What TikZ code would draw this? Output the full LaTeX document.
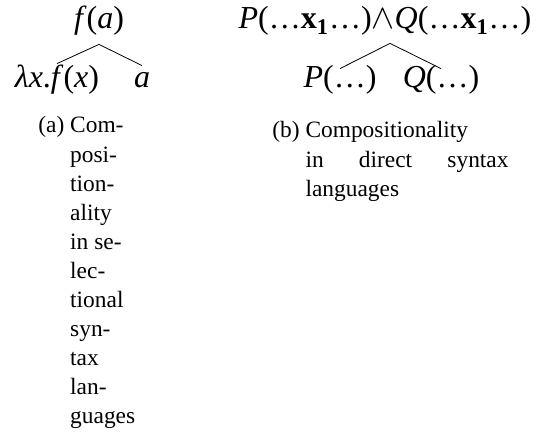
\documentclass[tikz,border=0pt]{standalone}
\usepackage{fontspec}
\setmainfont{Liberation Serif}
\usetikzlibrary{positioning}

\newcommand{\bx}{\textbf{x}\textsubscript{\textbf{1}}}

\begin{document}
\begin{tikzpicture}[x=0.5pt,y=-0.5pt,
    term/.style={inner sep=0pt,anchor=base,text height=12pt,text depth=4pt,
      font=\fontsize{16}{19}\selectfont},
    capt/.style={inner sep=0pt,anchor=base west,
      font=\fontsize{11.7}{14.55}\selectfont}]
  \useasboundingbox (0,0) rectangle (536,432);

  % (a) selectional syntax
  \node[term] (fa) at (99,29) {\textit{f\/}(\textit{a})};
  \node[term] (lam) at (57,88) {\textit{λx}.\textit{f\/}(\textit{x})};
  \node[term] (arg) at (142,88) {\textit{a}};
  \draw ([yshift=-3.5pt]fa.south) -- (lam.north);
  \draw ([yshift=-3.5pt]fa.south) -- ([yshift=-1pt]arg.north);

  \node[capt] (capa) at (38,133) {\begin{tabular}[t]{@{}r@{\ }l@{}}
      (a) & Com-\\ & posi-\\ & tion-\\ & ality\\ & in se-\\ & lec-\\
      & tional\\ & syn-\\ & tax\\ & lan-\\ & guages
    \end{tabular}};

  % (b) direct syntax
  \node[term] (conj) at (385,29) {\textit{P}(\ldots\bx\ldots)$\wedge$\textit{Q}(\ldots\bx\ldots)};
  \node[term] (pl) at (340,88) {\textit{P}(\ldots)};
  \node[term] (ql) at (441,88) {\textit{Q}(\ldots)};
  \draw ([xshift=2.5pt,yshift=-3pt]conj.south) -- ([yshift=-2.5pt]pl.north);
  \draw ([xshift=2.5pt,yshift=-3pt]conj.south) -- ([yshift=-2.5pt]ql.north);

  \node[capt] (capb) at (272,138) {\begin{tabular}[t]{@{}r@{\ }l@{}}
      (b) & Compositionality\\
      & \makebox[101.5pt][s]{in\hfill direct\hfill syntax}\\
      & languages
    \end{tabular}};
\end{tikzpicture}
\end{document}
